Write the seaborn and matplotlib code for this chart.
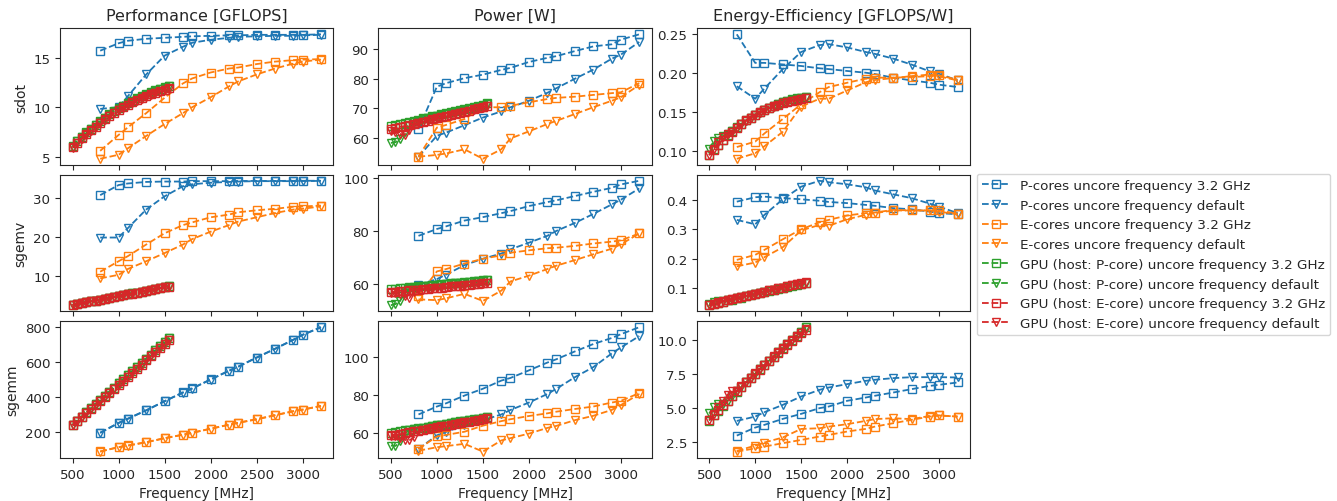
import matplotlib
matplotlib.use("Agg")
import matplotlib.pyplot as plt
import seaborn as sns

# ---------------- data ----------------
CPU_FREQ = [800, 1000, 1100, 1300, 1500, 1700, 1800, 2000, 2200, 2300, 2500, 2700, 2900, 3000, 3200]
GPU_FREQ = [500, 550, 600, 650, 700, 750, 800, 850, 900, 950, 1000, 1050,
            1100, 1150, 1200, 1250, 1300, 1350, 1400, 1450, 1500, 1550]

BENCHMARKS = ["sdot", "sgemv", "sgemm"]
METRICS = ["Performance [GFLOPS]", "Power [W]", "Energy-Efficiency [GFLOPS/W]"]
SERIES = [
    "P-cores uncore frequency 3.2 GHz",
    "P-cores uncore frequency default",
    "E-cores uncore frequency 3.2 GHz",
    "E-cores uncore frequency default",
    "GPU (host: P-core) uncore frequency 3.2 GHz",
    "GPU (host: P-core) uncore frequency default",
    "GPU (host: E-core) uncore frequency 3.2 GHz",
    "GPU (host: E-core) uncore frequency default",
]

# ---- sdot ----
sdot_perf_p32 = [15.7, 16.45, 16.7, 16.9, 17.0, 17.1, 17.15, 17.2, 17.25, 17.25, 17.3, 17.3, 17.3, 17.3, 17.35]
sdot_perf_pdef = [9.83, 10.0, 11.1, 13.3, 15.2, 16.1, 16.5, 16.8, 17.0, 17.1, 17.15, 17.2, 17.2, 17.25, 17.3]
sdot_perf_e32 = [5.6, 7.2, 7.96, 9.4, 10.95, 12.4, 12.9, 13.5, 13.9, 14.0, 14.35, 14.6, 14.75, 14.8, 14.85]
sdot_perf_edef = [4.8, 5.2, 5.85, 7.1, 8.3, 9.4, 10.0, 11.0, 12.1, 12.6, 13.3, 13.9, 14.4, 14.6, 14.8]
sdot_perf_gp32 = [6.1, 6.6, 7.0, 7.45, 7.85, 8.25, 8.6, 8.95, 9.3, 9.6, 9.9, 10.15, 10.4, 10.65, 10.9, 11.1, 11.3, 11.5, 11.7, 11.85, 12.0, 12.15]
sdot_perf_gpdef = [6.0, 6.55, 6.95, 7.4, 7.8, 8.2, 8.55, 8.9, 9.25, 9.55, 9.85, 10.1, 10.35, 10.6, 10.85, 11.05, 11.25, 11.45, 11.65, 11.8, 11.95, 12.1]
sdot_perf_ge32 = [5.95, 6.4, 6.85, 7.25, 7.65, 8.05, 8.45, 8.8, 9.15, 9.45, 9.75, 10.0, 10.25, 10.5, 10.7, 10.9, 11.1, 11.3, 11.45, 11.6, 11.75, 11.9]
sdot_perf_gedef = [5.9, 6.35, 6.8, 7.2, 7.6, 8.0, 8.4, 8.75, 9.1, 9.4, 9.7, 9.95, 10.2, 10.45, 10.65, 10.85, 11.05, 11.25, 11.4, 11.55, 11.7, 11.85]

sdot_pow_p32 = [62.9, 77.3, 78.5, 80.2, 81.4, 83.0, 83.7, 85.7, 87.1, 87.7, 89.4, 91.0, 91.7, 93.3, 95.1]
sdot_pow_pdef = [53.5, 60.6, 61.7, 64.2, 66.8, 68.9, 70.3, 72.5, 75.2, 76.8, 80.0, 83.1, 86.8, 88.2, 92.5]
sdot_pow_e32 = [53.5, 63.4, 64.3, 66.3, 70.3, 70.3, 70.8, 72.0, 73.1, 73.5, 73.9, 74.5, 75.1, 75.4, 78.5]
sdot_pow_edef = [53.5, 54.1, 54.6, 56.0, 52.8, 56.0, 59.7, 62.1, 64.6, 65.7, 68.0, 70.3, 72.5, 73.7, 77.9]
sdot_pow_gp32 = [64.0, 64.4, 64.7, 65.1, 65.4, 65.8, 66.1, 66.5, 66.8, 67.2, 67.5, 67.9, 68.2, 68.6, 68.9, 69.3, 69.6, 70.0, 70.4, 70.8, 71.2, 71.6]
sdot_pow_gpdef = [58.2, 58.4, 59.5, 61.8, 64.0, 65.3, 65.8, 66.2, 66.5, 66.9, 67.2, 67.6, 67.9, 68.3, 68.6, 69.0, 69.3, 69.7, 70.1, 70.5, 70.9, 71.3]
sdot_pow_ge32 = [62.8, 63.2, 63.6, 63.9, 64.3, 64.7, 65.1, 65.4, 65.8, 66.2, 66.6, 66.9, 67.3, 67.7, 68.1, 68.4, 68.8, 69.2, 69.6, 70.0, 70.4, 70.8]
sdot_pow_gedef = [62.4, 62.0, 61.2, 61.0, 62.5, 64.2, 64.8, 65.2, 65.6, 66.0, 66.4, 66.7, 67.1, 67.5, 67.9, 68.2, 68.6, 69.0, 69.4, 69.8, 70.2, 70.6]

sdot_eff_p32 = [0.2496, 0.213, 0.213, 0.211, 0.209, 0.206, 0.205, 0.2026, 0.2004, 0.1987, 0.194, 0.1905, 0.1875, 0.185, 0.182]
sdot_eff_pdef = [0.183, 0.167, 0.180, 0.205, 0.227, 0.2358, 0.237, 0.2328, 0.227, 0.2246, 0.2185, 0.2108, 0.202, 0.199, 0.1905]
sdot_eff_e32 = [0.105, 0.112, 0.1224, 0.141, 0.160, 0.1754, 0.182, 0.1875, 0.1927, 0.194, 0.194, 0.1948, 0.196, 0.197, 0.1914]
sdot_eff_edef = [0.090, 0.097, 0.106, 0.1246, 0.157, 0.167, 0.167, 0.1776, 0.188, 0.191, 0.1935, 0.196, 0.198, 0.1957, 0.1905]
sdot_eff_gp32 = [0.0953, 0.1025, 0.1082, 0.1144, 0.120, 0.1254, 0.1301, 0.1346, 0.1392, 0.1429, 0.1467, 0.1495, 0.1525, 0.1552, 0.1582, 0.1602, 0.1624, 0.1643, 0.1662, 0.1674, 0.1685, 0.1697]
sdot_eff_gpdef = [0.1031, 0.1122, 0.1168, 0.1197, 0.1219, 0.1256, 0.130, 0.1345, 0.139, 0.1425, 0.1465, 0.1492, 0.1522, 0.155, 0.158, 0.160, 0.1622, 0.1641, 0.166, 0.1672, 0.1683, 0.1695]
sdot_eff_ge32 = [0.0947, 0.1013, 0.1077, 0.1135, 0.119, 0.1244, 0.1298, 0.1346, 0.1391, 0.1427, 0.1464, 0.1495, 0.1523, 0.1551, 0.1571, 0.1594, 0.1613, 0.1633, 0.1645, 0.1657, 0.1669, 0.1681]
sdot_eff_gedef = [0.0946, 0.1024, 0.1111, 0.118, 0.1216, 0.1246, 0.1296, 0.1342, 0.1387, 0.1424, 0.1461, 0.1492, 0.152, 0.1548, 0.1568, 0.1591, 0.1611, 0.163, 0.1643, 0.1655, 0.1667, 0.1678]

# ---- sgemv ----
sgemv_perf_p32 = [30.7, 33.3, 33.7, 34.1, 34.2, 34.2, 34.3, 34.3, 34.3, 34.35, 34.35, 34.35, 34.4, 34.4, 34.4]
sgemv_perf_pdef = [19.8, 19.8, 22.2, 27.0, 30.4, 33.0, 33.5, 33.9, 34.1, 34.2, 34.3, 34.3, 34.3, 34.35, 34.35]
sgemv_perf_e32 = [11.0, 13.7, 15.0, 18.0, 20.9, 23.0, 23.7, 25.0, 25.7, 26.3, 26.8, 27.2, 27.7, 27.8, 28.0]
sgemv_perf_edef = [9.3, 10.2, 11.7, 13.7, 15.8, 18.0, 19.4, 21.3, 23.0, 23.9, 25.0, 26.1, 27.0, 27.2, 27.8]
sgemv_perf_gp32 = [2.45, 2.7, 2.95, 3.15, 3.4, 3.6, 3.85, 4.05, 4.3, 4.55, 4.75, 5.0, 5.2, 5.45, 5.65, 5.9, 6.1, 6.35, 6.55, 6.8, 7.0, 7.25]
sgemv_perf_gpdef = [2.45, 2.7, 2.95, 3.15, 3.4, 3.6, 3.85, 4.05, 4.3, 4.55, 4.75, 5.0, 5.2, 5.45, 5.65, 5.9, 6.1, 6.35, 6.55, 6.8, 7.0, 7.25]
sgemv_perf_ge32 = [2.4, 2.65, 2.9, 3.1, 3.35, 3.55, 3.8, 4.0, 4.25, 4.5, 4.7, 4.95, 5.15, 5.4, 5.6, 5.85, 6.05, 6.3, 6.5, 6.75, 6.95, 7.2]
sgemv_perf_gedef = [2.4, 2.65, 2.9, 3.1, 3.35, 3.55, 3.8, 4.0, 4.25, 4.5, 4.7, 4.95, 5.15, 5.4, 5.6, 5.85, 6.05, 6.3, 6.5, 6.75, 6.95, 7.2]

sgemv_pow_p32 = [78.2, 80.8, 81.8, 84.0, 85.3, 86.8, 87.6, 89.5, 91.0, 91.7, 93.3, 94.9, 96.4, 97.7, 99.1]
sgemv_pow_pdef = [59.6, 61.8, 63.5, 67.1, 69.5, 71.5, 73.1, 75.6, 78.2, 80.1, 83.1, 86.5, 90.1, 91.9, 96.2]
sgemv_pow_e32 = [55.5, 64.7, 65.6, 67.7, 69.5, 70.8, 71.8, 72.7, 73.5, 73.7, 74.4, 75.3, 76.0, 76.5, 79.1]
sgemv_pow_edef = [54.1, 53.8, 54.5, 56.2, 53.5, 57.4, 60.9, 63.1, 65.6, 66.9, 69.0, 71.2, 73.3, 75.0, 79.1]
sgemv_pow_gp32 = [58.0, 58.2, 58.3, 58.5, 58.7, 58.8, 59.0, 59.2, 59.3, 59.5, 59.7, 59.8, 60.0, 60.2, 60.3, 60.5, 60.7, 60.8, 61.0, 61.2, 61.3, 61.5]
sgemv_pow_gpdef = [51.9, 52.3, 53.5, 56.5, 58.2, 58.6, 58.8, 59.0, 59.2, 59.3, 59.5, 59.7, 59.8, 60.0, 60.2, 60.3, 60.5, 60.7, 60.8, 61.0, 61.2, 61.3]
sgemv_pow_ge32 = [56.8, 57.0, 57.1, 57.3, 57.5, 57.6, 57.8, 58.0, 58.1, 58.3, 58.5, 58.6, 58.8, 59.0, 59.1, 59.3, 59.5, 59.6, 59.8, 60.0, 60.2, 60.4]
sgemv_pow_gedef = [56.6, 56.5, 56.0, 55.2, 54.6, 56.8, 57.6, 57.8, 58.0, 58.1, 58.3, 58.5, 58.6, 58.8, 59.0, 59.1, 59.3, 59.5, 59.6, 59.8, 60.0, 60.2]

sgemv_eff_p32 = [0.394, 0.409, 0.411, 0.406, 0.402, 0.397, 0.393, 0.389, 0.383, 0.380, 0.372, 0.368, 0.360, 0.355, 0.351]
sgemv_eff_pdef = [0.332, 0.317, 0.349, 0.402, 0.445, 0.465, 0.460, 0.453, 0.443, 0.432, 0.419, 0.406, 0.387, 0.377, 0.355]
sgemv_eff_e32 = [0.196, 0.213, 0.230, 0.266, 0.300, 0.324, 0.332, 0.347, 0.355, 0.357, 0.366, 0.364, 0.364, 0.364, 0.353]
sgemv_eff_edef = [0.174, 0.187, 0.205, 0.239, 0.296, 0.315, 0.312, 0.334, 0.349, 0.355, 0.364, 0.364, 0.364, 0.360, 0.351]
sgemv_eff_gp32 = [0.042, 0.046, 0.051, 0.054, 0.058, 0.061, 0.065, 0.068, 0.073, 0.076, 0.080, 0.084, 0.087, 0.091, 0.094, 0.098, 0.100, 0.104, 0.107, 0.111, 0.114, 0.118]
sgemv_eff_gpdef = [0.047, 0.052, 0.055, 0.056, 0.058, 0.061, 0.065, 0.069, 0.073, 0.077, 0.080, 0.084, 0.087, 0.091, 0.094, 0.098, 0.101, 0.105, 0.108, 0.111, 0.114, 0.118]
sgemv_eff_ge32 = [0.042, 0.046, 0.051, 0.054, 0.058, 0.062, 0.066, 0.069, 0.073, 0.077, 0.080, 0.084, 0.088, 0.092, 0.095, 0.099, 0.102, 0.106, 0.109, 0.113, 0.115, 0.119]
sgemv_eff_gedef = [0.042, 0.047, 0.052, 0.056, 0.061, 0.063, 0.066, 0.069, 0.073, 0.077, 0.081, 0.085, 0.088, 0.092, 0.095, 0.099, 0.102, 0.106, 0.109, 0.113, 0.116, 0.120]

# ---- sgemm ----
sgemm_perf_p32 = [198, 254, 278, 326, 378, 428, 451, 502, 552, 575, 627, 677, 729, 757, 800]
sgemm_perf_pdef = [197, 253, 277, 325, 377, 427, 450, 501, 551, 574, 626, 676, 728, 756, 799]
sgemm_perf_e32 = [91, 116, 125, 144, 167, 187, 198, 221, 244, 255, 275, 298, 321, 330, 351]
sgemm_perf_edef = [90, 115, 124, 143, 166, 186, 197, 220, 243, 254, 274, 297, 320, 329, 350]
sgemm_perf_gp32 = [243, 267, 290, 314, 337, 361, 385, 408, 432, 455, 479, 503, 526, 550, 573, 597, 621, 644, 668, 691, 715, 739]
sgemm_perf_gpdef = [243, 267, 290, 314, 337, 361, 385, 408, 432, 455, 479, 503, 526, 550, 573, 597, 621, 644, 668, 691, 715, 739]
sgemm_perf_ge32 = [240, 263, 286, 309, 332, 356, 379, 402, 425, 448, 471, 494, 517, 540, 563, 587, 610, 633, 656, 679, 702, 725]
sgemm_perf_gedef = [240, 263, 286, 309, 332, 356, 379, 402, 425, 448, 471, 494, 517, 540, 563, 587, 610, 633, 656, 679, 702, 725]

sgemm_pow_p32 = [69.6, 73.8, 75.5, 79.6, 83.2, 87.5, 88.9, 92.9, 97.0, 98.8, 102.9, 106.8, 110.0, 112.0, 115.7]
sgemm_pow_pdef = [51.4, 58.6, 60.4, 63.9, 66.6, 69.6, 72.0, 75.9, 80.4, 83.2, 89.3, 94.6, 101.8, 105.0, 111.0]
sgemm_pow_e32 = [51.4, 58.0, 58.8, 60.5, 63.7, 66.1, 67.1, 68.8, 70.2, 71.1, 72.5, 73.8, 75.9, 76.8, 80.9]
sgemm_pow_edef = [50.5, 52.3, 52.9, 54.1, 50.0, 55.9, 57.1, 59.5, 62.5, 63.6, 66.6, 68.9, 72.0, 74.6, 80.4]
sgemm_pow_gp32 = [60.0, 60.4, 60.8, 61.2, 61.6, 62.0, 62.3, 62.7, 63.1, 63.5, 63.9, 64.3, 64.7, 65.1, 65.5, 65.9, 66.3, 66.6, 67.0, 67.4, 67.8, 68.2]
sgemm_pow_gpdef = [53.2, 53.0, 55.5, 59.5, 61.4, 61.8, 62.2, 62.6, 63.0, 63.4, 63.8, 64.2, 64.6, 65.0, 65.4, 65.8, 66.2, 66.5, 66.9, 67.3, 67.7, 68.1]
sgemm_pow_ge32 = [58.6, 59.0, 59.4, 59.9, 60.3, 60.7, 61.1, 61.6, 62.0, 62.4, 62.8, 63.3, 63.7, 64.1, 64.5, 64.9, 65.4, 65.8, 66.2, 66.6, 67.1, 67.5]
sgemm_pow_gedef = [58.3, 58.0, 57.0, 56.2, 55.9, 57.5, 60.8, 61.3, 61.7, 62.1, 62.5, 63.0, 63.4, 63.8, 64.2, 64.6, 65.1, 65.5, 65.9, 66.3, 66.8, 67.2]

sgemm_eff_p32 = [2.94, 3.53, 3.73, 4.17, 4.54, 4.96, 5.08, 5.50, 5.74, 5.87, 6.11, 6.36, 6.60, 6.68, 6.85]
sgemm_eff_pdef = [4.02, 4.34, 4.66, 5.20, 5.82, 6.31, 6.48, 6.73, 6.97, 7.05, 7.17, 7.24, 7.24, 7.24, 7.22]
sgemm_eff_e32 = [1.76, 2.00, 2.13, 2.38, 2.62, 2.87, 2.99, 3.24, 3.43, 3.60, 3.85, 4.10, 4.34, 4.42, 4.34]
sgemm_eff_edef = [1.81, 2.20, 2.43, 2.80, 3.43, 3.48, 3.60, 3.78, 4.02, 4.15, 4.22, 4.15, 4.39, 4.42, 4.34]
sgemm_eff_gp32 = [4.05, 4.42, 4.77, 5.13, 5.47, 5.82, 6.18, 6.51, 6.85, 7.17, 7.50, 7.82, 8.13, 8.45, 8.75, 9.06, 9.37, 9.67, 9.97, 10.27, 10.58, 10.90]
sgemm_eff_gpdef = [4.57, 5.04, 5.23, 5.28, 5.49, 5.84, 6.19, 6.52, 6.86, 7.18, 7.51, 7.83, 8.14, 8.46, 8.76, 9.07, 9.38, 9.68, 9.99, 10.29, 10.60, 10.92]
sgemm_eff_ge32 = [4.10, 4.46, 4.81, 5.16, 5.51, 5.86, 6.20, 6.53, 6.85, 7.18, 7.50, 7.80, 8.12, 8.42, 8.73, 9.04, 9.33, 9.62, 9.91, 10.20, 10.46, 10.74]
sgemm_eff_gedef = [4.12, 4.53, 5.02, 5.50, 5.94, 6.19, 6.23, 6.56, 6.89, 7.21, 7.54, 7.84, 8.15, 8.46, 8.77, 9.09, 9.37, 9.66, 9.95, 10.24, 10.51, 10.79]

# table assembled from the named lists above: [benchmark][metric] -> 8 series
DATA = {
    "sdot": [
        [sdot_perf_p32, sdot_perf_pdef, sdot_perf_e32, sdot_perf_edef, sdot_perf_gp32, sdot_perf_gpdef, sdot_perf_ge32, sdot_perf_gedef],
        [sdot_pow_p32, sdot_pow_pdef, sdot_pow_e32, sdot_pow_edef, sdot_pow_gp32, sdot_pow_gpdef, sdot_pow_ge32, sdot_pow_gedef],
        [sdot_eff_p32, sdot_eff_pdef, sdot_eff_e32, sdot_eff_edef, sdot_eff_gp32, sdot_eff_gpdef, sdot_eff_ge32, sdot_eff_gedef],
    ],
    "sgemv": [
        [sgemv_perf_p32, sgemv_perf_pdef, sgemv_perf_e32, sgemv_perf_edef, sgemv_perf_gp32, sgemv_perf_gpdef, sgemv_perf_ge32, sgemv_perf_gedef],
        [sgemv_pow_p32, sgemv_pow_pdef, sgemv_pow_e32, sgemv_pow_edef, sgemv_pow_gp32, sgemv_pow_gpdef, sgemv_pow_ge32, sgemv_pow_gedef],
        [sgemv_eff_p32, sgemv_eff_pdef, sgemv_eff_e32, sgemv_eff_edef, sgemv_eff_gp32, sgemv_eff_gpdef, sgemv_eff_ge32, sgemv_eff_gedef],
    ],
    "sgemm": [
        [sgemm_perf_p32, sgemm_perf_pdef, sgemm_perf_e32, sgemm_perf_edef, sgemm_perf_gp32, sgemm_perf_gpdef, sgemm_perf_ge32, sgemm_perf_gedef],
        [sgemm_pow_p32, sgemm_pow_pdef, sgemm_pow_e32, sgemm_pow_edef, sgemm_pow_gp32, sgemm_pow_gpdef, sgemm_pow_ge32, sgemm_pow_gedef],
        [sgemm_eff_p32, sgemm_eff_pdef, sgemm_eff_e32, sgemm_eff_edef, sgemm_eff_gp32, sgemm_eff_gpdef, sgemm_eff_ge32, sgemm_eff_gedef],
    ],
}

# ---------------- style ----------------
sns.set_style("ticks")
plt.rcParams["font.family"] = ["DejaVu Sans"]
plt.rcParams["xtick.labelsize"] = 9.6
plt.rcParams["ytick.labelsize"] = 9.6

palette = sns.color_palette("tab10")
colors = [palette[0], palette[0], palette[1], palette[1], palette[2], palette[2], palette[3], palette[3]]
markers = ["s", "v", "s", "v", "s", "v", "s", "v"]

fig, axes = plt.subplots(3, 3, figsize=(13.37, 5.02), dpi=100, sharex=True)
fig.subplots_adjust(left=0.045, right=0.7255, top=0.942, bottom=0.086, wspace=0.165, hspace=0.07)

for r, bench in enumerate(BENCHMARKS):
    for c, metric in enumerate(METRICS):
        ax = axes[r, c]
        for k, name in enumerate(SERIES):
            x = CPU_FREQ if k < 4 else GPU_FREQ
            y = DATA[bench][c][k]
            sns.lineplot(x=x, y=y, ax=ax, color=colors[k], marker=markers[k],
                         linestyle="--", linewidth=1.3, markersize=6.2,
                         markerfacecolor="none", markeredgecolor=colors[k],
                         markeredgewidth=1.0, label=name, legend=False)
        if r == 0:
            ax.set_title(metric, fontsize=11.5)
        if c == 0:
            ax.set_ylabel(bench, fontsize=10)
        else:
            ax.set_ylabel("")
        if r == 2:
            ax.set_xlabel("Frequency [MHz]", fontsize=9.8)
        ax.set_xticks([500, 1000, 1500, 2000, 2500, 3000])

handles, labels = axes[0, 0].get_legend_handles_labels()
fig.legend(handles, labels, loc="center left", bbox_to_anchor=(0.7255, 0.491),
           fontsize=9.7, frameon=True)

fig.savefig("out.png", dpi=100)
